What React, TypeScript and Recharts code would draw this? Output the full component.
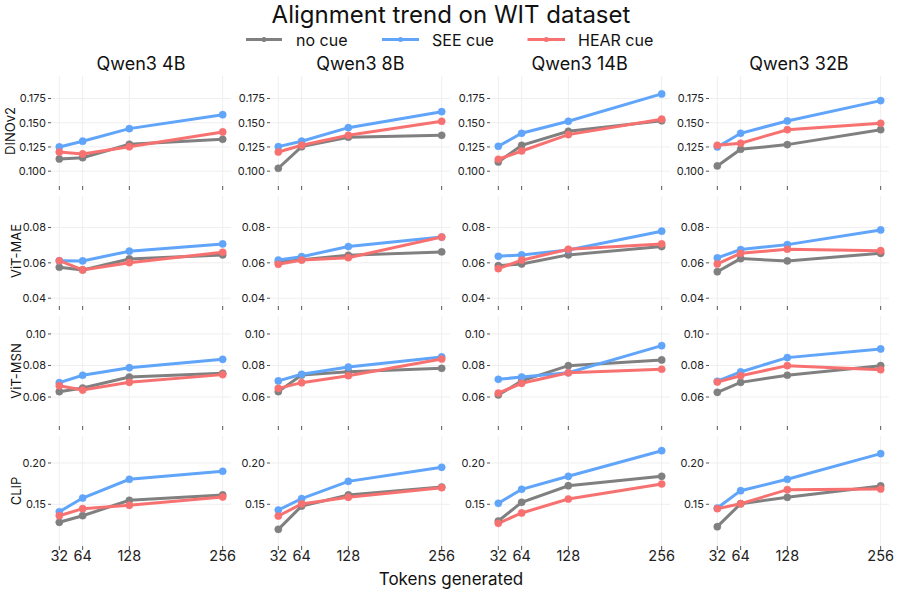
import React from 'react';
import { LineChart, Line, XAxis, YAxis, CartesianGrid } from 'recharts';

const tokens = [32, 64, 128, 256];
const models = ['Qwen3 4B', 'Qwen3 8B', 'Qwen3 14B', 'Qwen3 32B'];
const encoders = ['DINOv2', 'ViT-MAE', 'ViT-MSN', 'CLIP'];
const cueNames = ['no cue', 'SEE cue', 'HEAR cue'];
const cueKeys = ['noCue', 'see', 'hear'];
const cueColors = ['#808080', '#60a5fa', '#f87171'];

// each array: one row per model (4B, 8B, 14B, 32B), values at 32/64/128/256 tokens
const dinov2NoCue = [
  [0.1126, 0.1139, 0.1278, 0.1329],
  [0.1030, 0.1253, 0.1350, 0.1370],
  [0.1095, 0.1267, 0.1412, 0.1521],
  [0.1054, 0.1226, 0.1274, 0.1428],
];
const dinov2See = [
  [0.1250, 0.1309, 0.1439, 0.1583],
  [0.1253, 0.1309, 0.1449, 0.1614],
  [0.1257, 0.1391, 0.1515, 0.1797],
  [0.1250, 0.1391, 0.1518, 0.1728],
];
const dinov2Hear = [
  [0.1198, 0.1178, 0.1253, 0.1405],
  [0.1198, 0.1267, 0.1370, 0.1515],
  [0.1123, 0.1208, 0.1377, 0.1536],
  [0.1267, 0.1288, 0.1428, 0.1494],
];
const vitMaeNoCue = [
  [0.0575, 0.0560, 0.0622, 0.0645],
  [0.0603, 0.0618, 0.0643, 0.0662],
  [0.0584, 0.0594, 0.0645, 0.0692],
  [0.0550, 0.0624, 0.0611, 0.0654],
];
const vitMaeSee = [
  [0.0612, 0.0611, 0.0666, 0.0707],
  [0.0616, 0.0635, 0.0692, 0.0746],
  [0.0637, 0.0645, 0.0673, 0.0779],
  [0.0628, 0.0675, 0.0703, 0.0786],
];
const vitMaeHear = [
  [0.0612, 0.0560, 0.0601, 0.0660],
  [0.0592, 0.0616, 0.0629, 0.0746],
  [0.0567, 0.0615, 0.0677, 0.0707],
  [0.0594, 0.0654, 0.0677, 0.0669],
];
const vitMsnNoCue = [
  [0.0634, 0.0657, 0.0727, 0.0750],
  [0.0634, 0.0740, 0.0761, 0.0782],
  [0.0613, 0.0702, 0.0799, 0.0835],
  [0.0630, 0.0693, 0.0738, 0.0799],
];
const vitMsnSee = [
  [0.0691, 0.0738, 0.0786, 0.0839],
  [0.0702, 0.0744, 0.0790, 0.0854],
  [0.0712, 0.0727, 0.0754, 0.0926],
  [0.0700, 0.0759, 0.0850, 0.0905],
];
const vitMsnHear = [
  [0.0672, 0.0644, 0.0693, 0.0742],
  [0.0655, 0.0691, 0.0735, 0.0841],
  [0.0625, 0.0687, 0.0754, 0.0776],
  [0.0695, 0.0735, 0.0799, 0.0773],
];
const clipNoCue = [
  [0.1282, 0.1362, 0.1548, 0.1613],
  [0.1197, 0.1479, 0.1613, 0.1709],
  [0.1298, 0.1524, 0.1725, 0.1839],
  [0.1229, 0.1507, 0.1585, 0.1722],
];
const clipSee = [
  [0.1410, 0.1576, 0.1803, 0.1900],
  [0.1431, 0.1568, 0.1778, 0.1948],
  [0.1512, 0.1682, 0.1839, 0.2149],
  [0.1455, 0.1665, 0.1803, 0.2113],
];
const clipHear = [
  [0.1362, 0.1447, 0.1488, 0.1588],
  [0.1358, 0.1504, 0.1585, 0.1701],
  [0.1270, 0.1395, 0.1564, 0.1746],
  [0.1447, 0.1507, 0.1677, 0.1685],
];

const xTicks = [32, 64, 128, 256];
const yTicks = [
  [0.1, 0.125, 0.15, 0.175],
  [0.04, 0.06, 0.08],
  [0.06, 0.08, 0.1],
  [0.15, 0.2],
];
const yDecimals = [3, 2, 2, 2];
const yDomains = [
  [0.0847, 0.1982],
  [0.0356, 0.0978],
  [0.0416, 0.1114],
  [0.0995, 0.2327],
];

const rowSeries = [
  [dinov2NoCue, dinov2See, dinov2Hear],
  [vitMaeNoCue, vitMaeSee, vitMaeHear],
  [vitMsnNoCue, vitMsnSee, vitMsnHear],
  [clipNoCue, clipSee, clipHear],
];

const FONT = 'Inter, "Noto Sans", sans-serif';
const PANEL_W = 180;
const PANEL_H = 110;
const PANEL_LEFT0 = 51;
const COL_PITCH = 219.33;
const PANEL_TOP0 = 76;
const ROW_PITCH = 120;
const YAXIS_W = 50;
const PAD = 6;

const EmptyTick = () => <g />;

function Panel({ row, col }: { row: number; col: number }) {
  const series = rowSeries[row];
  const data = tokens.map((t, i) => ({
    t,
    noCue: series[0][col][i],
    see: series[1][col][i],
    hear: series[2][col][i],
  }));
  const bottom = row === 3;
  const xh = bottom ? 30 : 8;
  const left = PANEL_LEFT0 + col * COL_PITCH - YAXIS_W;
  const top = PANEL_TOP0 + row * ROW_PITCH - PAD;
  return (
    <div style={{ position: 'absolute', left, top }}>
      <LineChart
        width={YAXIS_W + PANEL_W + PAD}
        height={PAD + PANEL_H + xh}
        data={data}
        margin={{ top: PAD, right: PAD, bottom: 0, left: 0 }}
      >
        <CartesianGrid stroke="#efefef" strokeWidth={1} syncWithTicks />
        <XAxis
          type="number"
          dataKey="t"
          domain={[20.6, 267.4]}
          ticks={xTicks}
          allowDataOverflow
          axisLine={false}
          tickLine={{ stroke: '#555', strokeWidth: 1 }}
          tickSize={4}
          tickMargin={1}
          height={xh}
          interval={0}
          tick={bottom ? { fontSize: 14.5, fill: '#222', fontFamily: FONT } : EmptyTick}
        />
        <YAxis
          type="number"
          domain={yDomains[row]}
          ticks={yTicks[row]}
          allowDataOverflow
          axisLine={false}
          tickLine={{ stroke: '#555', strokeWidth: 1 }}
          tickSize={3}
          tickMargin={2}
          width={YAXIS_W}
          interval={0}
          tickFormatter={(v: number) => v.toFixed(yDecimals[row])}
          tick={{ fontSize: 11, fill: '#222', fontFamily: FONT }}
        />
        {cueKeys.map((k, i) => (
          <Line
            key={k}
            type="linear"
            dataKey={k}
            stroke={cueColors[i]}
            strokeWidth={3}
            dot={{ r: 3.6, fill: cueColors[i], stroke: cueColors[i], strokeWidth: 0.5 }}
            activeDot={false}
            isAnimationActive={false}
          />
        ))}
      </LineChart>
    </div>
  );
}

const legendPos = [
  { x1: 246, x2: 282, tx: 296 },
  { x1: 382, x2: 419, tx: 432 },
  { x1: 527.5, x2: 565, tx: 578 },
];
const rowLabelX = [15, 20.5, 20.5, 20.5];

export default function App() {
  return (
    <div
      style={{
        position: 'absolute',
        left: 0,
        top: 0,
        width: 897,
        height: 592,
        background: '#fff',
        fontFamily: FONT,
        overflow: 'hidden',
      }}
    >
      <svg width={897} height={592} style={{ position: 'absolute', left: 0, top: 0 }}>
        <text x={451} y={23} textAnchor="middle" fontSize={24} fill="#111" fontFamily={FONT}>
          Alignment trend on WIT dataset
        </text>
        {cueNames.map((n, i) => (
          <g key={n}>
            <line x1={legendPos[i].x1} x2={legendPos[i].x2} y1={39.5} y2={39.5} stroke={cueColors[i]} strokeWidth={3} />
            <circle cx={(legendPos[i].x1 + legendPos[i].x2) / 2} cy={39.5} r={2.5} fill={cueColors[i]} />
            <text x={legendPos[i].tx} y={45.5} fontSize={16} fill="#111" fontFamily={FONT}>
              {n}
            </text>
          </g>
        ))}
        {models.map((m, c) => (
          <text
            key={m}
            x={PANEL_LEFT0 + c * COL_PITCH + PANEL_W / 2}
            y={70}
            textAnchor="middle"
            fontSize={18}
            fill="#111"
            fontFamily={FONT}
          >
            {m}
          </text>
        ))}
        {encoders.map((e, r) => {
          const cy = PANEL_TOP0 + r * ROW_PITCH + PANEL_H / 2;
          return (
            <text
              key={e}
              x={rowLabelX[r]}
              y={cy}
              transform={`rotate(-90 ${rowLabelX[r]} ${cy})`}
              textAnchor="middle"
              fontSize={13}
              fill="#111"
              fontFamily={FONT}
            >
              {e}
            </text>
          );
        })}
        <text x={451} y={585} textAnchor="middle" fontSize={17} fill="#111" fontFamily={FONT}>
          Tokens generated
        </text>
      </svg>
      {encoders.map((e, r) =>
        models.map((m, c) => <Panel key={`${e}-${m}`} row={r} col={c} />)
      )}
    </div>
  );
}
